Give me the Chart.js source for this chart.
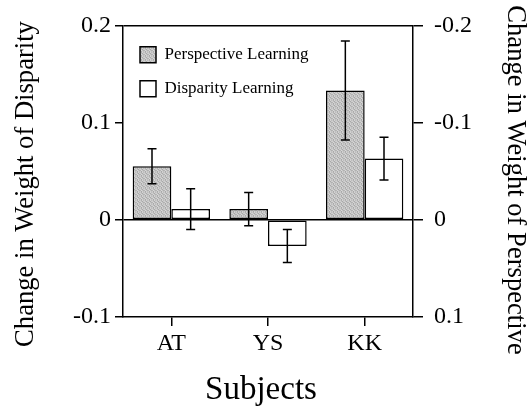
<!DOCTYPE html>
<html>
<head>
<meta charset="utf-8">
<script src="https://cdn.jsdelivr.net/npm/chart.js@4/dist/chart.umd.min.js"></script>
<style>
  body { margin: 0; background: #fff; }
</style>
</head>
<body>
<canvas id="chart" width="527" height="407"></canvas>
<script>
const subjects = ['AT', 'YS', 'KK']
const perspective = [0.055, 0.011, 0.133]
const perspectiveErr = [0.018, 0.017, 0.051]
const disparity = [0.011, -0.027, 0.063]
const disparityErr = [0.021, 0.017, 0.022]
const leftTicks = [-0.1, 0, 0.1, 0.2]
const rightTicks = [-0.2, -0.1, 0, 0.1]

const serif = 'Liberation Serif'

// grey stipple fill like the printed figure
const stipple = [
  [0xc8, 0xb0, 0xd4, 0xbc],
  [0xd0, 0xc0, 0xa8, 0xcc],
  [0xb4, 0xd8, 0xc4, 0xb0],
  [0xcc, 0xa8, 0xd0, 0xc0]
]
const dots = document.createElement('canvas')
dots.width = 4
dots.height = 4
const dctx = dots.getContext('2d')
stipple.forEach((row, r) => row.forEach((g, c) => {
  dctx.fillStyle = `rgb(${g},${g},${g})`
  dctx.fillRect(c, r, 1, 1)
}))
const grey = dctx.createPattern(dots, 'repeat')

const fmt = v => Math.abs(v) < 1e-9 ? '0' : (+v.toFixed(1)).toString()

// error bars, drawn on top of the bars
const errorBars = {
  id: 'errorBars',
  afterDatasetsDraw(chart) {
    const ctx = chart.ctx
    const y = chart.scales.y
    chart.data.datasets.forEach((ds, i) => {
      const meta = chart.getDatasetMeta(i)
      meta.data.forEach((bar, j) => {
        const v = ds.data[j], e = ds.err[j]
        const top = y.getPixelForValue(v + e)
        const bot = y.getPixelForValue(v - e)
        ctx.save()
        ctx.strokeStyle = '#000'
        ctx.lineWidth = 1.5
        ctx.beginPath()
        ctx.moveTo(bar.x, top); ctx.lineTo(bar.x, bot)
        ctx.moveTo(bar.x - 4.5, top); ctx.lineTo(bar.x + 4.5, top)
        ctx.moveTo(bar.x - 4.5, bot); ctx.lineTo(bar.x + 4.5, bot)
        ctx.stroke()
        ctx.restore()
      })
    })
  }
}

// axis titles placed where the figure has them
const axisTitles = {
  id: 'axisTitles',
  afterDraw(chart) {
    const ctx = chart.ctx
    ctx.save()
    ctx.fillStyle = '#000'
    ctx.textAlign = 'center'
    ctx.textBaseline = 'alphabetic'
    ctx.font = '26.6px "' + serif + '"'
    ctx.save()
    ctx.translate(33, 184)
    ctx.rotate(-Math.PI / 2)
    ctx.fillText('Change in Weight of Disparity', 0, 0)
    ctx.restore()
    ctx.save()
    ctx.translate(508, 180)
    ctx.rotate(Math.PI / 2)
    ctx.fillText('Change in Weight of Perspective', 0, 0)
    ctx.restore()
    ctx.font = '33px "' + serif + '"'
    ctx.fillText('Subjects', 261, 399)
    ctx.restore()
  }
}

new Chart(document.getElementById('chart'), {
  type: 'bar',
  data: {
    labels: subjects,
    datasets: [{
      label: 'Perspective Learning',
      data: perspective,
      err: perspectiveErr,
      backgroundColor: grey,
      borderColor: '#000',
      borderWidth: 1.5,
      borderSkipped: false,
      categoryPercentage: 0.8,
      barPercentage: 1
    }, {
      label: 'Disparity Learning',
      data: disparity,
      err: disparityErr,
      backgroundColor: '#fff',
      borderColor: '#000',
      borderWidth: 1.5,
      borderSkipped: false,
      categoryPercentage: 0.8,
      barPercentage: 1
    }]
  },
  options: {
    responsive: false,
    animation: false,
    layout: { padding: { top: 24, left: 0, right: 0, bottom: 0 } },
    scales: {
      x: {
        afterFit: s => { s.height = 90 },
        grid: { drawOnChartArea: false, offset: false, color: '#000', lineWidth: 1.5, tickLength: 9 },
        border: { color: '#000', width: 1.5 },
        ticks: { color: '#000', font: { family: serif, size: 24 }, padding: 3 }
      },
      y: {
        position: 'left',
        min: -0.1,
        max: 0.2,
        afterFit: s => { s.width = 123 },
        afterBuildTicks: s => { s.ticks = leftTicks.map(v => ({ value: v })) },
        grid: {
          color: c => (c.tick && (c.tick.value === 0 || c.tick.value === 0.2)) ? '#000' : 'rgba(0,0,0,0)',
          tickColor: '#000',
          lineWidth: 1.5,
          tickLength: 8
        },
        border: { color: '#000', width: 1.5 },
        ticks: { color: '#000', font: { family: serif, size: 24 }, padding: 4, callback: fmt }
      },
      y2: {
        position: 'right',
        reverse: true,
        min: -0.2,
        max: 0.1,
        afterFit: s => { s.width = 114 },
        afterBuildTicks: s => { s.ticks = rightTicks.map(v => ({ value: v })) },
        grid: { drawOnChartArea: false, color: '#000', lineWidth: 1.5, tickLength: 10 },
        border: { color: '#000', width: 1.5 },
        ticks: { color: '#000', font: { family: serif, size: 24 }, padding: 11, callback: fmt }
      }
    },
    plugins: {
      legend: {
        position: 'chartArea',
        align: 'start',
        // empty title only pushes the legend rows down inside the plot
        title: { display: true, text: '', font: { size: 1 }, padding: { top: 28, bottom: 0 } },
        labels: {
          color: '#000',
          font: { family: serif, size: 17 },
          boxWidth: 16,
          boxHeight: 16,
          padding: 17
        }
      },
      tooltip: { enabled: false }
    }
  },
  plugins: [errorBars, axisTitles]
})
</script>
</body>
</html>
